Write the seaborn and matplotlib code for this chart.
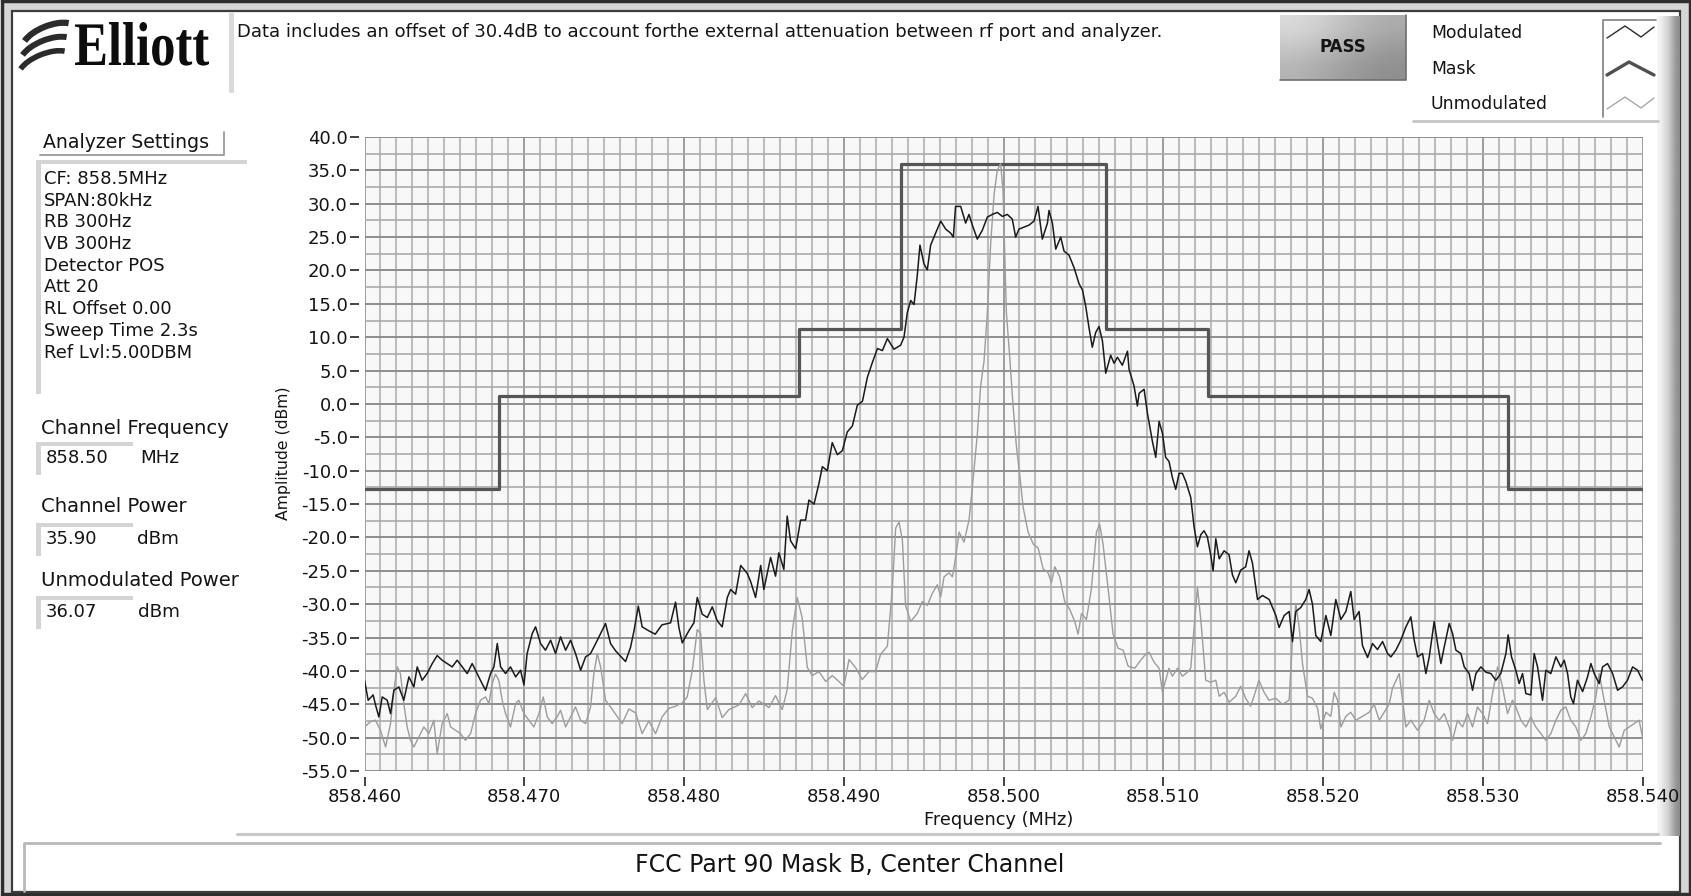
import numpy as np
import pandas as pd
import matplotlib
matplotlib.use("Agg")
import matplotlib.pyplot as plt
import seaborn as sns
from matplotlib.patches import Rectangle, Arc, PathPatch
from matplotlib.ticker import MultipleLocator, FormatStrFormatter
from matplotlib.colors import LinearSegmentedColormap
from matplotlib.textpath import TextPath
from matplotlib.font_manager import FontProperties
from matplotlib.transforms import Affine2D

# ---------------- data ----------------
START_MHZ = 858.460

mod_offset_khz = [
    0.0, 0.23, 0.54, 0.69, 0.9, 1.11, 1.42, 1.63, 1.84, 2.15, 2.46, 2.78, 3.09, 3.3, 3.61, 3.92, 4.24, 4.55, 4.86, 5.18,
    5.49, 5.8, 6.12, 6.43, 6.74, 7.05, 7.36, 7.58, 7.89, 8.1, 8.31, 8.52, 8.83, 9.14, 9.46, 9.77, 9.98, 10.18, 10.5, 10.71,
    11.02, 11.33, 11.65, 11.96, 12.27, 12.59, 12.9, 13.21, 13.53, 13.84, 14.15, 14.47, 14.78, 15.09, 15.4,
    15.72, 16.34, 16.65, 16.87, 17.14, 17.38, 17.8, 18.2, 18.62, 19.16, 19.47, 19.68, 19.89, 20.3, 20.62, 20.83, 21.14,
    21.46, 21.77, 22.08, 22.39, 22.71, 22.92, 23.23, 23.55, 23.96, 24.17, 24.48, 24.8, 25.0, 25.42, 25.73, 25.94, 26.25,
    26.46, 26.67, 26.99, 27.3, 27.61, 27.82, 28.14, 28.45, 28.66, 28.97, 29.28, 29.6, 29.91, 30.22, 30.54, 30.85, 31.17,
    31.48, 31.79, 32.11, 32.42,
    32.73, 33.14, 33.56, 33.77, 33.98, 34.19, 34.4, 34.6, 34.77, 35.02, 35.23, 35.44, 35.75, 36.07, 36.38, 36.69, 36.86,
    37.0, 37.32, 37.63, 37.84, 38.05, 38.36, 38.67, 38.99, 39.3, 39.61, 39.93, 40.24, 40.55, 40.76, 40.97, 41.28, 41.6,
    41.91, 42.16, 42.43, 42.75, 42.85, 43.06, 43.27, 43.58, 43.79, 44.1, 44.42, 44.73, 44.94, 45.15, 45.36, 45.56, 45.77,
    45.98, 46.19, 46.4, 46.71, 46.92, 47.13, 47.44, 47.76, 47.86, 48.17, 48.38,
    48.49, 48.8, 49.01, 49.32, 49.53, 49.74, 49.95, 50.15, 50.36, 50.57, 50.78, 50.99, 51.2, 51.41, 51.72, 51.93, 52.14,
    52.35, 52.55, 52.76, 52.97, 53.12, 53.29, 53.5, 53.81, 54.12, 54.33, 54.54, 54.85, 55.16, 55.37, 55.58, 55.9, 56.21,
    56.63, 57.05, 57.25, 57.57, 57.88, 58.09, 58.3, 58.61, 58.92, 59.13, 59.34, 59.55, 59.86, 60.18, 60.49, 60.8, 61.12,
    61.43, 61.74, 61.95, 62.26, 62.47, 62.79, 63.1, 63.41, 63.73, 64.04,
    64.25, 64.56, 64.87, 65.19, 65.5, 65.71, 65.92, 66.23, 66.44, 66.65, 66.96, 67.17, 67.38, 67.59, 67.9, 68.11, 68.32,
    68.63, 68.84, 69.15, 69.36, 69.57, 69.88, 70.2, 70.51, 70.82, 71.13, 71.45, 71.59, 71.8, 72.07, 72.28, 72.49, 72.7,
    73.01, 73.22, 73.43, 73.74, 73.95, 74.26, 74.58, 74.89, 75.1, 75.31, 75.51, 75.68, 75.93, 76.25, 76.56, 76.77, 76.98,
    77.29, 77.5, 77.81, 78.13, 78.44, 78.75, 79.06, 79.38, 79.69, 80.0,
]
mod_dbm = [
    -41.4, -44.4, -43.6, -45.1, -46.9, -43.9, -44.4, -46.4, -42.9, -42.4, -44.4, -40.9, -42.4, -39.4, -41.4, -40.4, -38.9,
    -37.7, -38.4, -38.9, -39.4, -38.4, -39.4, -40.4, -38.9, -40.4, -41.9, -42.9, -40.4, -39.4, -35.9, -39.4, -40.4, -39.4,
    -40.9, -39.9, -42.1, -37.4, -34.4, -33.4, -35.9, -36.9, -35.4, -37.4, -34.9, -36.9, -35.4, -37.4, -39.9, -37.9, -37.4,
    -35.9, -34.4, -32.9, -35.9,
    -37.0, -38.6, -36.5, -34.0, -30.3, -33.4, -34.0, -34.5, -33.1, -32.8, -29.7, -33.5, -35.8, -34.0, -32.8, -29.0, -31.5,
    -32.0, -30.4, -32.5, -33.4, -29.0, -27.8, -28.5, -24.2, -25.4, -26.6, -29.0, -24.2, -27.8, -23.0, -25.8, -22.3, -24.8,
    -16.8, -20.5, -21.7, -17.4, -17.4, -14.4, -15.0, -11.9, -9.4, -10.0, -5.8, -7.6, -7.0, -4.2, -3.3, -0.2, 0.4, 4.0,
    6.2, 8.3, 8.0,
    9.8, 8.2, 8.8, 10.0, 13.7, 15.5, 14.9, 19.2, 23.8, 21.0, 20.1, 23.8, 25.6, 27.4, 26.2, 25.6, 25.0, 29.6, 29.6, 27.1,
    28.4, 26.8, 24.7, 26.0, 28.0, 28.4, 28.7, 28.1, 28.4, 27.7, 25.0, 26.2, 26.5, 26.8, 27.4, 29.6, 24.7, 27.1, 29.0, 27.1,
    23.2, 25.0, 22.9, 22.3, 20.4, 18.0, 17.1, 14.6, 11.3, 8.5, 10.7, 11.6, 9.5, 4.6, 7.3, 6.1, 7.0, 5.8, 7.9, 5.2, 2.7,
    -0.3,
    1.6, 2.2, -1.4, -5.6, -8.0, -2.6, -4.4, -8.0, -8.6, -11.0, -12.8, -10.4, -10.4, -11.6, -14.0, -18.4, -21.4, -19.6,
    -19.0, -19.9, -22.6, -25.0, -20.2, -23.2, -22.0, -22.6, -25.6, -26.8, -24.9, -24.4, -22.0, -23.8, -29.3, -28.7, -29.3,
    -31.7, -33.5, -31.7, -31.1, -35.6, -31.1, -30.5, -29.3, -27.8, -30.0, -34.7, -35.6, -31.7, -34.7, -29.3, -32.3, -31.1,
    -28.1, -32.3, -31.1, -36.2, -38.0, -35.9, -36.8, -35.6, -37.4,
    -37.9, -36.9, -35.4, -33.4, -31.9, -35.4, -37.9, -37.4, -40.4, -37.9, -32.6, -35.9, -38.9, -36.4, -32.9, -34.4, -36.9,
    -37.4, -39.4, -40.4, -42.9, -40.4, -39.4, -40.2, -40.4, -41.4, -40.4, -37.4, -34.6, -37.9, -39.9, -41.9, -40.4, -43.4,
    -43.6, -37.4, -39.4, -44.4, -39.9, -40.4, -37.9, -39.4, -38.4, -40.4, -43.9, -44.9, -41.4, -43.1, -40.9, -38.9, -40.4,
    -41.9, -39.4, -38.9, -40.4, -42.9, -42.4, -41.4, -39.4, -39.9, -41.4,
]

unmod_offset_khz = [
    0.0, 0.38, 0.69, 1.0, 1.32, 1.63, 1.84, 2.05, 2.25, 2.46, 2.67, 2.88, 3.09, 3.40, 3.72, 4.03, 4.34, 4.55, 4.86, 5.18,
    5.39, 5.7, 6.01, 6.32, 6.64, 6.95, 7.26, 7.58, 7.79, 7.99, 8.2, 8.41, 8.62, 8.83, 9.14, 9.46, 9.66, 9.98, 10.29, 10.6,
    10.92, 11.19, 11.44, 11.75, 12.06, 12.27, 12.59, 12.9, 13.21, 13.53, 13.84, 14.15, 14.36, 14.57, 14.78, 15.09, 15.4,
    16.13, 16.55, 16.97, 17.38, 17.8, 18.22, 18.63, 19.05, 19.47, 19.89, 20.2, 20.52, 20.83, 21.04, 21.25, 21.46, 21.98,
    22.39, 22.81, 23.44, 23.86, 24.27, 24.69, 25.32, 25.73, 26.15, 26.46, 26.78, 27.09, 27.4, 27.72, 28.03, 28.45, 28.87,
    29.28, 29.7, 30.01, 30.33, 30.74, 31.16, 31.58, 31.99,
    32.31, 32.73, 33.04, 33.25, 33.46, 33.67, 33.87, 34.19, 34.6, 34.92, 35.23, 35.54, 35.86, 36.07, 36.28, 36.59, 36.8,
    37.01, 37.22, 37.53, 37.84, 38.05, 38.36, 38.57, 38.78, 38.99, 39.2, 39.41, 39.61, 39.82, 39.97, 40.18, 40.39, 40.6,
    40.81, 41.02, 41.23, 41.54, 41.86, 42.17, 42.48, 42.79, 43.0, 43.21, 43.52, 43.83, 44.15, 44.46, 44.67, 44.88, 45.19,
    45.5, 45.82, 46.02, 46.23, 46.55, 46.86, 47.17, 47.49, 47.8, 48.22,
    48.59, 48.9, 49.11, 49.43, 49.74, 49.95, 50.15, 50.36, 50.57, 50.89, 51.2, 51.51, 51.72, 51.93, 52.14, 52.35, 52.66,
    52.97, 53.29, 53.5, 53.81, 54.12, 54.54, 54.85, 55.16, 55.47, 55.68, 55.99, 56.31, 56.62, 57.04, 57.46, 57.88, 58.09,
    58.3, 58.51, 58.72, 59.03, 59.34, 59.66, 59.86, 60.18, 60.49, 60.7, 60.91, 61.12, 61.43, 61.74, 62.06, 62.47, 62.89,
    63.2, 63.52, 63.83, 64.14, 64.35,
    64.77, 65.19, 65.5, 65.92, 66.33, 66.65, 66.96, 67.27, 67.59, 67.9, 68.11, 68.42, 68.74, 69.05, 69.36, 69.67, 69.99,
    70.3, 70.61, 70.93, 71.24, 71.55, 71.86, 72.07, 72.39, 72.7, 73.01, 73.32, 73.64, 73.95, 74.26, 74.58, 74.89, 75.2,
    75.51, 75.83, 76.14, 76.45, 76.77, 77.08, 77.29, 77.6, 77.92, 78.23, 78.54, 78.86, 79.17, 79.48, 79.79, 80.0,
]
unmod_dbm = [
    -48.4, -47.6, -47.4, -48.9, -51.4, -47.9, -42.9, -39.4, -40.4, -44.9, -48.4, -50.4, -51.4, -49.9, -48.4, -49.4, -47.4,
    -52.4, -47.9, -46.4, -48.4, -48.9, -49.4, -50.4, -49.4, -46.4, -44.4, -43.9, -44.9, -41.9, -40.5, -41.4, -44.4, -46.4,
    -48.4, -44.9, -44.4, -46.4, -47.4, -48.4, -46.4, -43.9, -46.9, -47.9, -46.9, -45.9, -48.4, -46.9, -45.4, -47.4, -47.9,
    -45.4, -40.4, -37.4, -39.4, -44.4, -45.4,
    -47.9, -45.7, -46.3, -49.4, -47.5, -49.4, -46.9, -45.6, -45.3, -44.8, -43.9, -39.9, -33.8, -34.4, -41.5, -45.8, -44.0,
    -47.0, -45.8, -45.1, -43.4, -45.5, -44.5, -45.5, -43.7, -45.8, -42.8, -34.0, -29.0, -32.1, -39.5, -40.7, -40.1, -41.6,
    -40.7, -41.6, -42.3, -38.3, -39.5, -41.3, -40.1, -40.1,
    -37.5, -36.3, -27.7, -18.6, -17.7, -20.4, -30.2, -32.6, -31.4, -29.6, -30.2, -28.4, -27.1, -28.9, -25.9, -25.3, -25.9,
    -22.9, -19.2, -20.7, -17.4, -12.5, -4.6, 2.7, 6.4, 13.7, 24.1, 31.4, 35.0, 36.0, 32.0, 13.7, 7.0, -0.3, -6.4, -10.7,
    -15.5, -19.2, -21.0, -21.6, -24.7, -25.3, -26.8, -24.4, -25.9, -29.6, -30.8, -32.6, -34.5, -31.4, -32.3, -27.7, -19.2,
    -18.0, -21.0, -27.7, -34.5, -36.6, -36.9, -39.3, -39.6,
    -38.4, -37.5, -37.2, -38.7, -39.6, -43.2, -41.4, -39.6, -40.8, -39.6, -40.8, -40.2, -39.6, -33.5, -27.5, -32.3, -41.4,
    -41.7, -41.4, -43.8, -43.2, -44.7, -43.8, -42.3, -44.1, -45.3, -43.8, -41.4, -43.2, -44.4, -44.1, -45.0, -44.4, -35.3,
    -29.9, -33.5, -39.0, -43.8, -44.1, -45.6, -48.7, -46.2, -46.8, -43.2, -44.4, -48.4, -46.8, -46.2, -47.4, -46.8, -46.2,
    -45.0, -47.4, -46.2, -45.0, -42.6,
    -40.4, -48.4, -47.4, -48.9, -47.4, -44.4, -46.4, -47.4, -46.4, -48.4, -50.4, -47.4, -48.4, -46.4, -48.4, -45.4, -46.4,
    -47.9, -43.4, -39.4, -42.4, -46.4, -44.4, -45.4, -47.4, -48.4, -46.9, -48.4, -49.4, -50.4, -49.4, -47.4, -45.9, -45.4,
    -47.4, -48.4, -50.4, -49.4, -46.9, -43.9, -40.4, -44.4, -48.4, -49.9, -51.4, -48.9, -48.4, -47.9, -47.4, -49.9,
]

mask_edge_mhz = [858.460, 858.4684, 858.4872, 858.4936, 858.5064, 858.5128, 858.5316, 858.540]
mask_limit_dbm = [-12.8, 1.2, 11.2, 36.0, 11.2, 1.2, -12.8, -12.8]

series_names = ["Modulated", "Mask", "Unmodulated"]
analyzer_settings = ["CF: 858.5MHz", "SPAN:80kHz", "RB 300Hz", "VB 300Hz", "Detector POS", "Att 20",
                     "RL Offset 0.00", "Sweep Time 2.3s", "Ref Lvl:5.00DBM"]
channel_frequency = "858.50"
channel_power = "35.90"
unmod_power = "36.07"
note_text = "Data includes an offset of 30.4dB to account forthe external attenuation between rf port and analyzer."
footer_text = "FCC Part 90 Mask B, Center Channel"

assert len(mod_offset_khz) == len(mod_dbm)
assert len(unmod_offset_khz) == len(unmod_dbm)

df_mod = pd.DataFrame({"freq": START_MHZ + np.array(mod_offset_khz) / 1000.0, "amp": mod_dbm})
df_unmod = pd.DataFrame({"freq": START_MHZ + np.array(unmod_offset_khz) / 1000.0, "amp": unmod_dbm})
df_mask = pd.DataFrame({"freq": mask_edge_mhz, "amp": mask_limit_dbm})

# ---------------- figure ----------------
sns.set_theme(style="white")
plt.rcParams["font.family"] = ["DejaVu Sans"]
plt.rcParams["axes.unicode_minus"] = False

W, H = 1691, 896
fig = plt.figure(figsize=(W / 100, H / 100), dpi=100)
fig.patch.set_facecolor("white")

deco = fig.add_axes([0, 0, 1, 1], zorder=0)
deco.set_xlim(0, W)
deco.set_ylim(H, 0)
deco.axis("off")

TXT = "#141414"

# window frame
deco.add_patch(Rectangle((1.5, 1.5), W - 3, H - 3, facecolor="#d6d6d6", edgecolor="#2e2e2e", lw=2.5, zorder=1))
deco.add_patch(Rectangle((12, 11), W - 23, H - 15, facecolor="white", edgecolor="#3c3c3c", lw=1.6, zorder=1))

# right shadow bar
gcm = LinearSegmentedColormap.from_list("g", ["#f6f6f6", "#d0d0d0", "#8c8c8c"])
deco.imshow([[0.0, 0.25, 0.5, 0.75, 1.0]], extent=[1657, 1680, 836, 16], cmap=gcm, aspect="auto",
            interpolation="bicubic", zorder=2)

# logo: three swoosh strokes + condensed bold serif word mark
for (cx, cy), lw in zip([(49, 38), (47, 52), (45, 66)], [4.5, 4.3, 4.0]):
    deco.add_patch(Arc((cx, cy), 56, 24, angle=-22, theta1=195, theta2=345, lw=lw, color="#2b2b2b", zorder=3))
tp = TextPath((0, 0), "Elliott", size=100, prop=FontProperties(family="Liberation Serif", weight="bold"))
bb = tp.get_extents()
logo_tr = Affine2D().translate(-bb.x0, 0).scale(134 / bb.width, -43 / bb.y1).translate(75, 65)
deco.add_patch(PathPatch(tp, transform=logo_tr + deco.transData, facecolor="#0c0c0c", edgecolor="none", zorder=3))

# note box shadow + note
deco.add_patch(Rectangle((229, 13), 5, 80, facecolor="#dadada", edgecolor="none", zorder=2))
deco.text(237, 32, note_text, fontsize=13, color=TXT, va="center", ha="left", zorder=3)

# PASS indicator
pcm = LinearSegmentedColormap.from_list("p", ["#dcdcdc", "#b4b4b4", "#8e8e8e"])
deco.imshow([[0.0, 0.3, 0.6], [0.25, 0.55, 0.85], [0.5, 0.8, 1.0]], extent=[1280, 1406, 80, 15], cmap=pcm,
            aspect="auto", interpolation="bicubic", zorder=2)
deco.plot([1280, 1406, 1406], [80, 80, 15], color="#6e6e6e", lw=1.2, zorder=3)
deco.text(1343, 47, "PASS", fontsize=12, fontweight="bold", color=TXT, ha="center", va="center", zorder=3)

# legend
deco.plot([1413, 1658], [121, 121], color="#c4c4c4", lw=2, zorder=3)
deco.plot([1603, 1603, 1656], [117, 20, 20], color="#808080", lw=1.2, zorder=3)
leg_y = [33, 69, 104]
leg_style = [("#2a2a2a", 1.0), ("#505050", 2.4), ("#a8a8a8", 1.0)]
for name, yy in zip(series_names, leg_y):
    deco.text(1431, yy, name, fontsize=12.4, color=TXT, ha="left", va="center", zorder=3)
for yy, (c, lw), shape in zip(leg_y, leg_style, ["zig", "peak", "zig"]):
    if shape == "zig":
        deco.plot([1607, 1625, 1641, 1654], [yy + 5, yy - 7, yy + 4, yy - 6], color=c, lw=lw, zorder=3)
    else:
        deco.plot([1607, 1629, 1654], [yy + 6, yy - 7, yy + 6], color=c, lw=lw, zorder=3)

# left panel
deco.text(43, 143, "Analyzer Settings", fontsize=13.6, color=TXT, ha="left", va="center", zorder=3)
deco.plot([40, 224, 224], [155, 155, 132], color="#9a9a9a", lw=1.3, zorder=3)
deco.add_patch(Rectangle((36, 160), 211, 4, facecolor="#d4d4d4", edgecolor="none", zorder=2))
deco.add_patch(Rectangle((36, 160), 5, 234, facecolor="#d4d4d4", edgecolor="none", zorder=2))
for i, s in enumerate(analyzer_settings):
    deco.text(44, 179 + i * 21.7, s, fontsize=13, color=TXT, ha="left", va="center", zorder=3)


def value_box(y_label, label, y_box, value, unit, unit_x):
    deco.text(41, y_label, label, fontsize=14.1, color=TXT, ha="left", va="center", zorder=3)
    deco.add_patch(Rectangle((36, y_box - 16), 97, 4, facecolor="#d4d4d4", edgecolor="none", zorder=2))
    deco.add_patch(Rectangle((36, y_box - 16), 5, 33, facecolor="#d4d4d4", edgecolor="none", zorder=2))
    deco.text(46, y_box, value, fontsize=13, color=TXT, ha="left", va="center", zorder=3)
    deco.text(unit_x, y_box, unit, fontsize=13.2, color=TXT, ha="left", va="center", zorder=3)


value_box(428, "Channel Frequency", 458, channel_frequency, "MHz", 140)
value_box(507, "Channel Power", 539, channel_power, "dBm", 137)
value_box(580, "Unmodulated Power", 612, unmod_power, "dBm", 138)

# bottom footer
deco.plot([237, 1658], [834, 834], color="#c8c8c8", lw=2.2, zorder=3)
deco.plot([24, 24, 1660], [891, 843, 843], color="#b8b8b8", lw=2, zorder=3)
deco.text(850, 865, footer_text, fontsize=17, color=TXT, ha="center", va="center", zorder=3)

# ---------------- plot ----------------
x0, x1, yt, yb = 364.5, 1642.5, 137, 771
ax = fig.add_axes([x0 / W, 1 - yb / H, (x1 - x0) / W, (yb - yt) / H], zorder=5)
ax.set_facecolor("#f8f8f8")

sns.lineplot(data=df_mask, x="freq", y="amp", ax=ax, color="#555555", lw=2.3, drawstyle="steps-post",
             estimator=None, sort=False, legend=False, zorder=3)
sns.lineplot(data=df_unmod, x="freq", y="amp", ax=ax, color="#9c9c9c", lw=1.0,
             estimator=None, sort=False, legend=False, zorder=4)
sns.lineplot(data=df_mod, x="freq", y="amp", ax=ax, color="#1a1a1a", lw=1.1,
             estimator=None, sort=False, legend=False, zorder=5)

ax.set_xlim(858.460, 858.540)
ax.set_ylim(-55, 40)
ax.xaxis.set_major_locator(MultipleLocator(0.01))
ax.xaxis.set_minor_locator(MultipleLocator(0.001))
ax.yaxis.set_major_locator(MultipleLocator(5))
ax.yaxis.set_minor_locator(MultipleLocator(2.5))
ax.xaxis.set_major_formatter(FormatStrFormatter("%.3f"))
ax.yaxis.set_major_formatter(FormatStrFormatter("%.1f"))

ax.set_axisbelow(True)
ax.grid(which="minor", axis="x", color="#bdbdbd", lw=1.5)
ax.grid(which="minor", axis="y", color="#ababab", lw=1.2)
ax.grid(which="major", axis="x", color="#8c8c8c", lw=1.2)
ax.grid(which="major", axis="y", color="#8e8e8e", lw=1.4)

for side in ["top", "right"]:
    ax.spines[side].set_visible(False)
for side in ["left", "bottom"]:
    ax.spines[side].set_position(("outward", 4))
    ax.spines[side].set_visible(False)

ax.tick_params(which="major", direction="out", length=6.5, width=1.3, color="#333333", labelsize=13,
               labelcolor=TXT, pad=1.5, left=True, bottom=True)
ax.tick_params(which="minor", length=0)

ax.set_xlabel("Frequency (MHz)", fontsize=12.8, color=TXT)
ax.set_ylabel("Amplitude (dBm)", fontsize=11.3, color=TXT)
ax.xaxis.set_label_coords((999 - x0) / (x1 - x0), -(811 - yb) / (yb - yt))
ax.yaxis.set_label_coords(-(x0 - 291) / (x1 - x0), (yb - 453) / (yb - yt))

fig.savefig("out.png", dpi=100, facecolor=fig.get_facecolor())
